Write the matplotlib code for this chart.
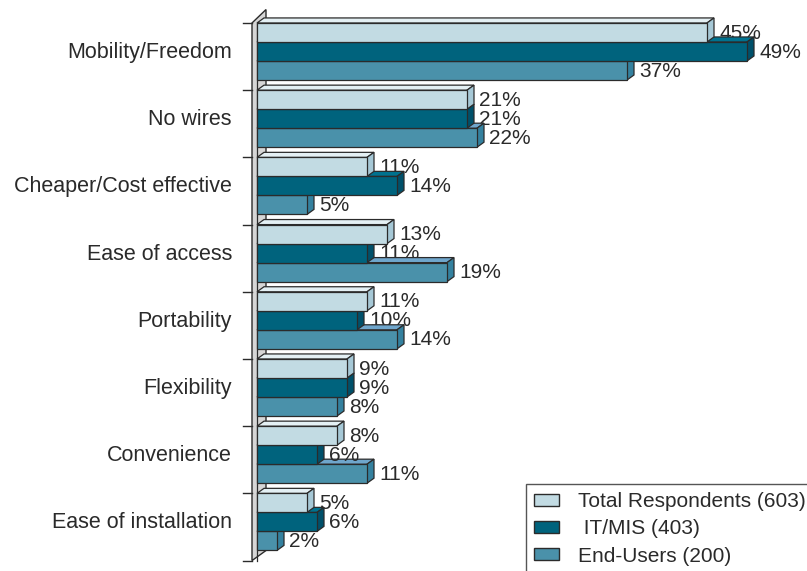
import numpy as np
import matplotlib
matplotlib.use("Agg")
import matplotlib.pyplot as plt
from matplotlib.patches import Polygon, Patch

plt.rcParams['font.family'] = ['Liberation Sans', 'DejaVu Sans']

categories = ["Mobility/Freedom", "No wires", "Cheaper/Cost effective", "Ease of access",
              "Portability", "Flexibility", "Convenience", "Ease of installation"]
series_names = ["Total Respondents (603)", " IT/MIS (403)", "End-Users (200)"]
total = [45, 21, 11, 13, 11, 9, 8, 5]
itmis = [49, 21, 14, 11, 10, 9, 6, 6]
endusers = [37, 22, 5, 19, 14, 8, 11, 2]

# front / top / side colours per series
front = ["#c2dbe3", "#00637d", "#4a91aa"]
top = ["#e4f0f4", "#00728f", "#6fa6cc"]
side = ["#a6c8d6", "#00506a", "#34819f"]
edge = "#2b2b2b"
txt = "#2a2a2a"

series = [total, itmis, endusers]
bh = 0.283          # bar height (group units)
dx, dy = 0.7, 0.075  # depth offset of the 3D faces

fig = plt.figure(figsize=(8.07, 5.71), dpi=100)
ax = fig.add_axes([0, 0, 1, 1])
ax.set_xlim(-25.7, 55.0)
ax.set_ylim(8.155, -0.342)
ax.axis('off')

# left wall
wall = Polygon([(-0.5, 0.0), (0.9, -0.2), (0.9, 7.85), (-0.5, 8.0)],
               closed=True, facecolor="#d6d6d6", edgecolor=edge, lw=1.0, zorder=1)
ax.add_patch(wall)
ax.plot([-0.05, -0.05], [0.0, 8.0], color=edge, lw=0.9, zorder=1.5)
for t in range(len(categories) + 1):
    ax.plot([-1.4, -0.5], [t, t], color=edge, lw=1.0, zorder=1)

z = 2
# draw from the bottom up so upper bars hide the top faces below them
for i in reversed(range(len(categories))):
    for j in reversed(range(3)):
        v = series[j][i]
        y0 = i + j * bh
        y1 = y0 + bh
        ax.add_patch(Polygon([(0, y0), (v, y0), (v + dx, y0 - dy), (dx, y0 - dy)],
                             facecolor=top[j], edgecolor=edge, lw=0.9, zorder=z))
        ax.add_patch(Polygon([(v, y0), (v + dx, y0 - dy), (v + dx, y1 - dy), (v, y1)],
                             facecolor=side[j], edgecolor=edge, lw=0.9, zorder=z))
        ax.add_patch(Polygon([(0, y0), (v, y0), (v, y1), (0, y1)],
                             facecolor=front[j], edgecolor=edge, lw=0.9, zorder=z))
        ax.text(v + dx + 0.55, (y0 + y1) / 2 + 0.01, f"{v}%", ha='left', va='center',
                fontsize=15, color=txt, zorder=10)
        z += 1

for i, c in enumerate(categories):
    ax.text(-2.5, i + 0.44, c, ha='right', va='center', fontsize=15.5, color=txt)

handles = [Patch(facecolor=front[j], edgecolor=edge, lw=1.0) for j in range(3)]
leg = fig.legend(handles, series_names, loc='upper left',
                 bbox_to_anchor=(526 / 807, 1 - 484 / 571), frameon=True,
                 fancybox=False, edgecolor=edge, borderaxespad=0,
                 fontsize=15, handlelength=1.2, handleheight=0.55,
                 handletextpad=0.9, labelspacing=0.39, borderpad=0.4)
leg.get_frame().set_linewidth(1.0)
for t in leg.get_texts():
    t.set_color(txt)

fig.savefig("out.png", dpi=100)
